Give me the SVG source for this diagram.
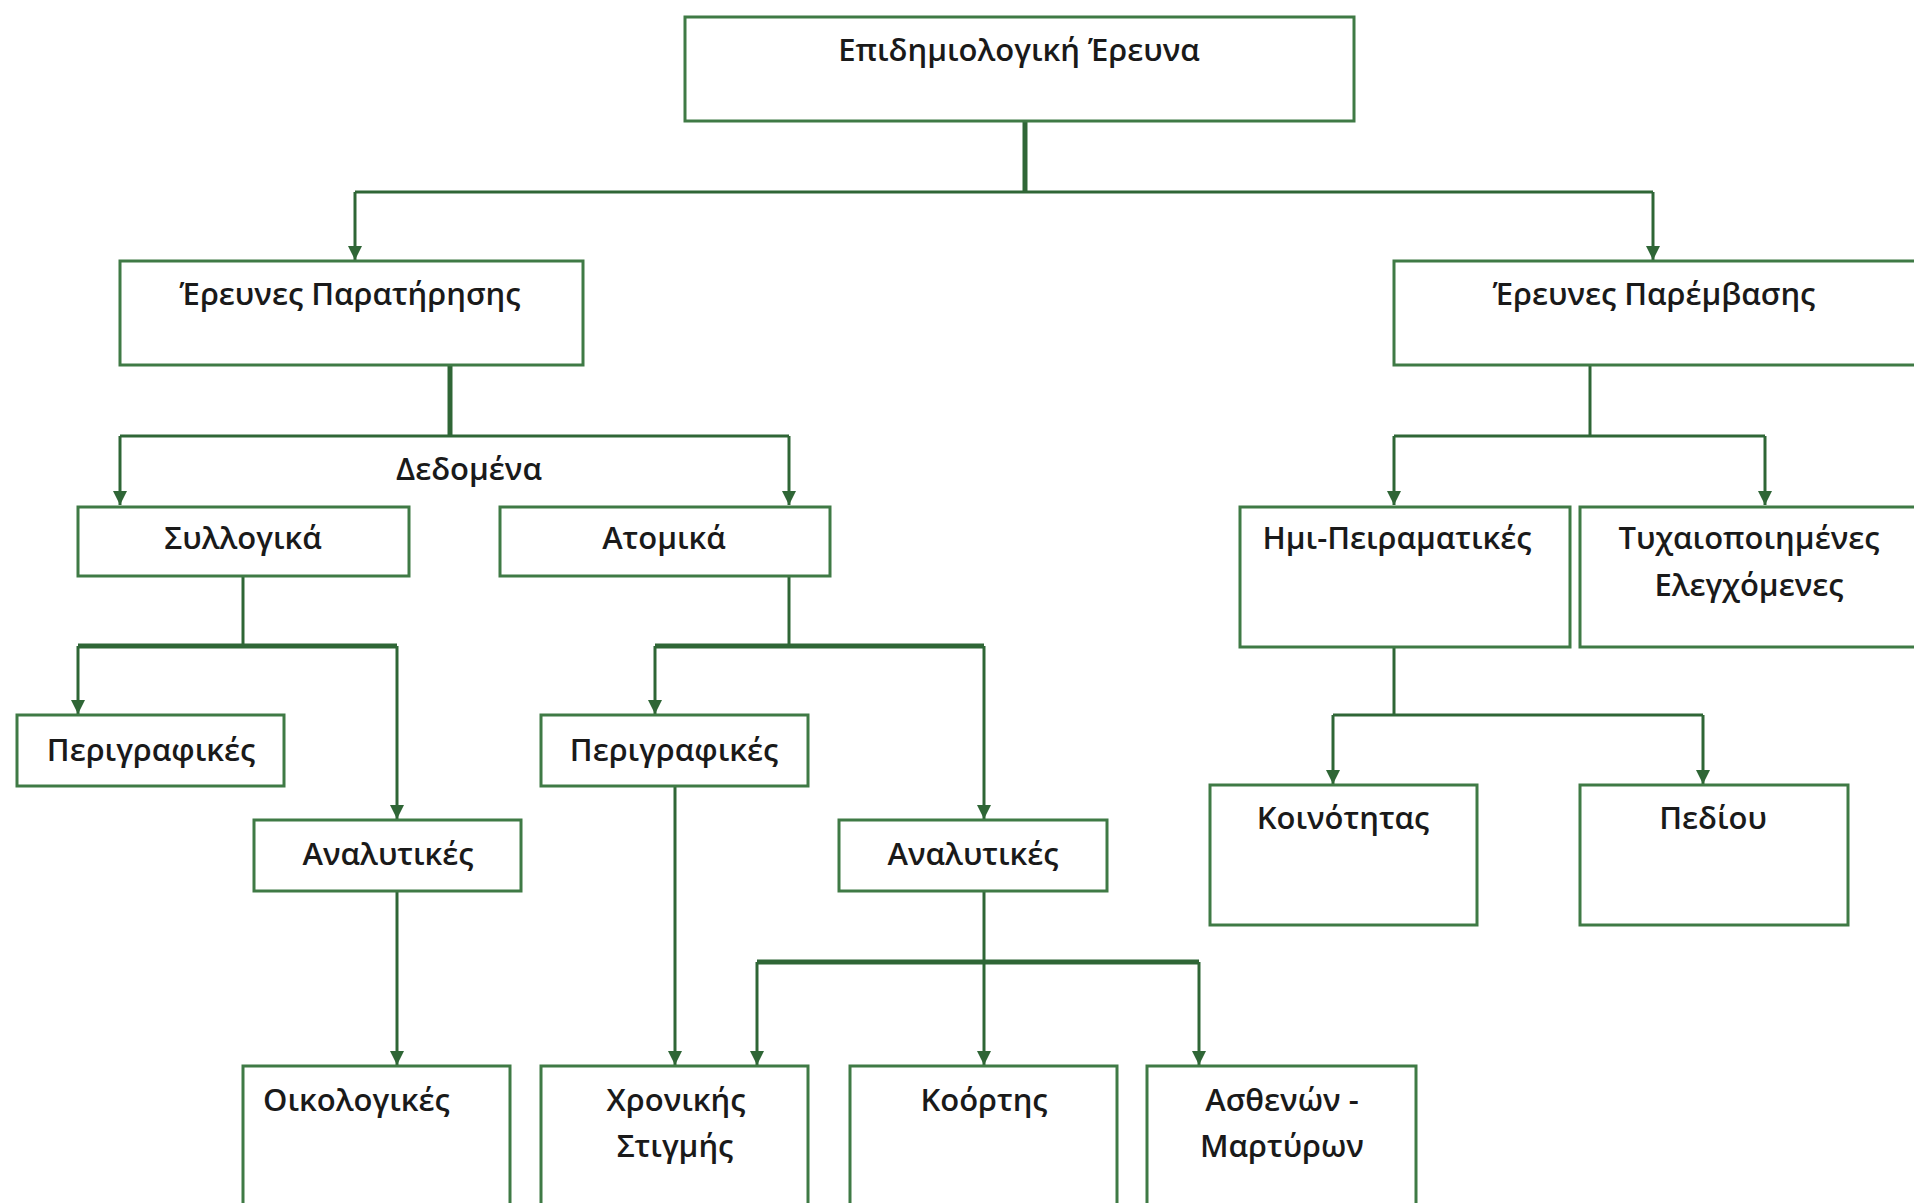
<svg xmlns="http://www.w3.org/2000/svg" width="1914" height="1203" viewBox="0 0 1914 1203">
<defs>
<style>
.box{fill:#ffffff;stroke:#3f7a45;stroke-width:3}
.t{font-family:"Open Sans","Liberation Sans",Arial,sans-serif;font-size:31px;font-weight:600;fill:#1a1a1a;text-anchor:middle}
.c{fill:none;stroke:#2f6636;stroke-width:3}
.ck{fill:none;stroke:#2f6636;stroke-width:5}
</style>
<marker id="ah" viewBox="0 0 14 14" refX="14" refY="7" markerWidth="14" markerHeight="14" markerUnits="userSpaceOnUse" orient="auto">
<path d="M0,0 L14,7 L0,14 Z" fill="#2f6636"/>
</marker>
</defs>
<rect width="1914" height="1203" fill="#ffffff"/>
<g id="connectors">
<path class="ck" d="M1025,121 V192"/>
<path class="c" d="M355,192 H1653"/>
<path class="c" d="M355,192 V260" marker-end="url(#ah)"/>
<path class="c" d="M1653,192 V260" marker-end="url(#ah)"/>
<path class="ck" d="M450,365 V436"/>
<path class="c" d="M120,436 H789"/>
<path class="c" d="M120,436 V505" marker-end="url(#ah)"/>
<path class="c" d="M789,436 V505" marker-end="url(#ah)"/>
<path class="c" d="M243,576 V646"/>
<path class="ck" d="M78,646 H397"/>
<path class="c" d="M78,646 V714" marker-end="url(#ah)"/>
<path class="c" d="M397,646 V819" marker-end="url(#ah)"/>
<path class="c" d="M397,891 V1065" marker-end="url(#ah)"/>
<path class="c" d="M789,576 V646"/>
<path class="ck" d="M655,646 H984"/>
<path class="c" d="M655,646 V714" marker-end="url(#ah)"/>
<path class="c" d="M984,646 V819" marker-end="url(#ah)"/>
<path class="c" d="M675,786 V1065" marker-end="url(#ah)"/>
<path class="c" d="M984,891 V1065" marker-end="url(#ah)"/>
<path class="ck" d="M757,962 H1199"/>
<path class="c" d="M757,962 V1065" marker-end="url(#ah)"/>
<path class="c" d="M1199,962 V1065" marker-end="url(#ah)"/>
<path class="c" d="M1590,365 V436"/>
<path class="c" d="M1394,436 H1765"/>
<path class="c" d="M1394,436 V505" marker-end="url(#ah)"/>
<path class="c" d="M1765,436 V505" marker-end="url(#ah)"/>
<path class="c" d="M1394,647 V715"/>
<path class="c" d="M1333,715 H1703"/>
<path class="c" d="M1333,715 V784" marker-end="url(#ah)"/>
<path class="c" d="M1703,715 V784" marker-end="url(#ah)"/>
</g>
<g id="n-epidimiologiki">
<rect class="box" x="685" y="17" width="669" height="104"/>
<text class="t" x="1019" y="61">Επιδημιολογική Έρευνα</text>
</g>
<g id="n-paratirisis">
<rect class="box" x="120" y="261" width="463" height="104"/>
<text class="t" x="350" y="305">Έρευνες Παρατήρησης</text>
</g>
<g id="n-paremvasis">
<rect class="box" x="1394" y="261" width="530" height="104"/>
<text class="t" x="1654" y="305">Έρευνες Παρέμβασης</text>
</g>
<g id="l-dedomena">
<text class="t" x="469" y="480">Δεδομένα</text>
</g>
<g id="n-syllogika">
<rect class="box" x="78" y="507" width="331" height="69"/>
<text class="t" x="243" y="549">Συλλογικά</text>
</g>
<g id="n-atomika">
<rect class="box" x="500" y="507" width="330" height="69"/>
<text class="t" x="664" y="549">Ατομικά</text>
</g>
<g id="n-imi">
<rect class="box" x="1240" y="507" width="330" height="140"/>
<text class="t" x="1397" y="549">Ημι-Πειραματικές</text>
</g>
<g id="n-tyxaiopoiimenes">
<rect class="box" x="1580" y="507" width="344" height="140"/>
<text class="t" x="1749" y="549">Τυχαιοποιημένες</text>
<text class="t" x="1749" y="596">Ελεγχόμενες</text>
</g>
<g id="n-perigrafikes-1">
<rect class="box" x="17" y="715" width="267" height="71"/>
<text class="t" x="151" y="761">Περιγραφικές</text>
</g>
<g id="n-perigrafikes-2">
<rect class="box" x="541" y="715" width="267" height="71"/>
<text class="t" x="674" y="761">Περιγραφικές</text>
</g>
<g id="n-analytikes-1">
<rect class="box" x="254" y="820" width="267" height="71"/>
<text class="t" x="388" y="865">Αναλυτικές</text>
</g>
<g id="n-analytikes-2">
<rect class="box" x="839" y="820" width="268" height="71"/>
<text class="t" x="973" y="865">Αναλυτικές</text>
</g>
<g id="n-koinotitas">
<rect class="box" x="1210" y="785" width="267" height="140"/>
<text class="t" x="1343" y="829">Κοινότητας</text>
</g>
<g id="n-pediou">
<rect class="box" x="1580" y="785" width="268" height="140"/>
<text class="t" x="1713" y="829">Πεδίου</text>
</g>
<g id="n-oikologikes">
<rect class="box" x="243" y="1066" width="267" height="150"/>
<text class="t" x="263" y="1111" style="text-anchor:start">Οικολογικές</text>
</g>
<g id="n-xronikis">
<rect class="box" x="541" y="1066" width="267" height="150"/>
<text class="t" x="676" y="1111">Χρονικής</text>
<text class="t" x="675" y="1157">Στιγμής</text>
</g>
<g id="n-koortis">
<rect class="box" x="850" y="1066" width="267" height="150"/>
<text class="t" x="984" y="1111">Κοόρτης</text>
</g>
<g id="n-asthenon">
<rect class="box" x="1147" y="1066" width="269" height="150"/>
<text class="t" x="1282" y="1111">Ασθενών -</text>
<text class="t" x="1282" y="1157">Μαρτύρων</text>
</g>
</svg>
